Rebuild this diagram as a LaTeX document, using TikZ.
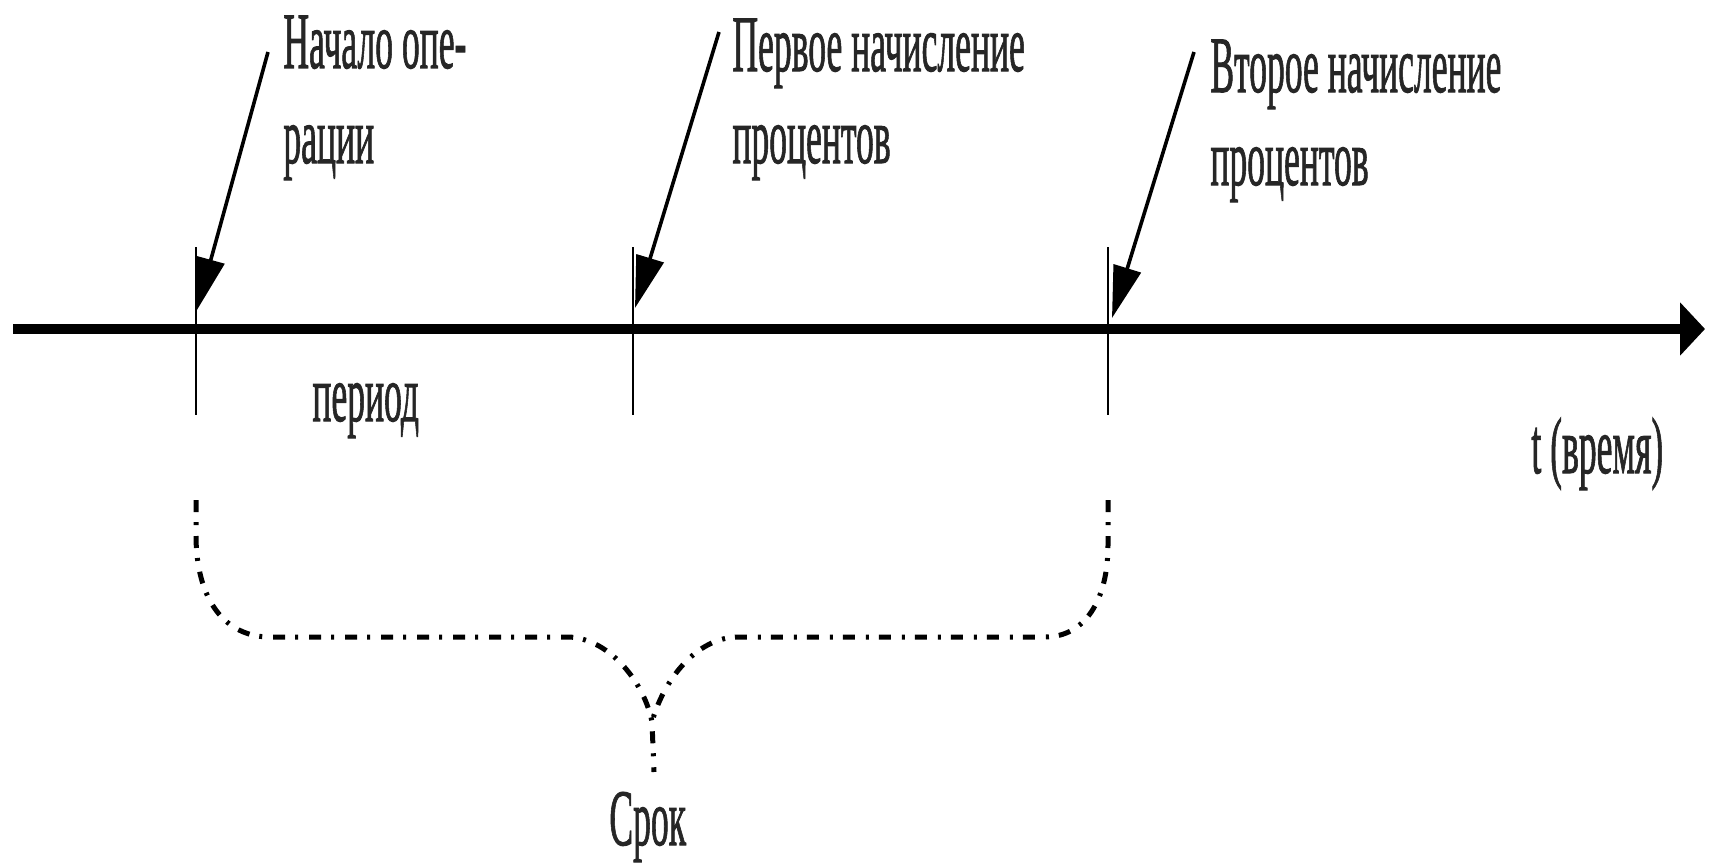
\documentclass[tikz,border=0pt]{standalone}
\usepackage{fontspec}
\setmainfont{Liberation Serif}
\newfontfamily\lblfont[FakeBold=1.5]{Liberation Serif}
\usetikzlibrary{arrows.meta}
\newcommand{\sqz}[1]{\scalebox{0.445}[1]{#1}}
\tikzset{
  lbl/.style={anchor=base west, inner sep=0pt, text=black!85, font=\lblfont\fontsize{40}{47.5}\selectfont},
  axisline/.style={line width=5pt, -{Triangle[length=12.5pt,width=26pt]}},
  tickline/.style={line width=1.4pt},
  callout/.style={line width=1.8pt, -{Triangle[length=26pt,width=14pt]}},
  bracel/.style={line width=2.5pt, dash pattern=on 6pt off 5pt on 1.5pt off 5.5pt},
}
\begin{document}
\begin{tikzpicture}[x=0.5pt,y=-0.5pt]
\useasboundingbox (0,0) rectangle (1714,867);
% axis
\coordinate (ax0) at (13,329);
\coordinate (ax1) at (1705,329);
\draw[axisline] (ax0) -- (ax1);
% ticks
\coordinate (k0t) at (196,247); \coordinate (k0b) at (196,415);
\coordinate (k1t) at (633,247); \coordinate (k1b) at (633,415);
\coordinate (k2t) at (1108,247); \coordinate (k2b) at (1108,415);
\draw[tickline] (k0t) -- (k0b);
\draw[tickline] (k1t) -- (k1b);
\draw[tickline] (k2t) -- (k2b);
% callouts
\coordinate (c0) at (268,52);  \coordinate (h0) at (197,310);
\coordinate (c1) at (719,32);  \coordinate (h1) at (635,308);
\coordinate (c2) at (1194,52); \coordinate (h2) at (1112,318);
\draw[callout] (c0) -- (h0);
\draw[callout] (c1) -- (h1);
\draw[callout] (c2) -- (h2);
% labels
\node[lbl] (n1a) at (283,68) {\sqz{Начало опе-}};
\node[lbl] (n1b) at (283,163) {\sqz{рации}};
\node[lbl] (n2a) at (732,71) {\sqz{Первое начисление}};
\node[lbl] (n2b) at (732,163) {\sqz{процентов}};
\node[lbl] (n3a) at (1210,92) {\sqz{Второе начисление}};
\node[lbl] (n3b) at (1210,185) {\sqz{процентов}};
\node[lbl] (per) at (312,421) {\sqz{период}};
\node[lbl] (tt) at (1531,473) {\sqz{t (время)}};
\node[lbl] (srok) at (609,845) {\sqz{Срок}};
% brace
\coordinate (bl) at (196,500);
\coordinate (br) at (1108,500);
\coordinate (bm) at (652,722);
\coordinate (bt) at (654,772);
\draw[bracel] (bl) -- (196,535) .. controls (196,600) and (225,637) .. (270,637)
  -- (570,637) .. controls (612,640) and (645,685) .. (bm) -- (bt);
\draw[bracel] (br) -- (1108,545) .. controls (1108,600) and (1085,637) .. (1045,637)
  -- (735,637) .. controls (692,640) and (662,685) .. (bm);
\end{tikzpicture}
\end{document}
